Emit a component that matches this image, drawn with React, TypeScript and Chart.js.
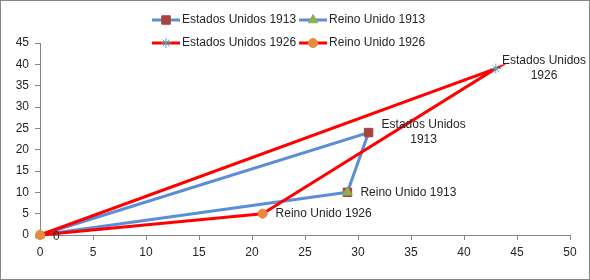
import React, { useEffect, useRef } from 'react';
import { Chart, registerables } from 'chart.js';
import { drawPoint } from 'chart.js/helpers';

Chart.register(...registerables);

const seriesNames = ['Estados Unidos 1913', 'Reino Unido 1913', 'Estados Unidos 1926', 'Reino Unido 1926'];

const eu1913X = [0, 31, 29];
const eu1913Y = [0, 24, 10];
const eu1913Labels = ['0', 'Estados Unidos\n1913', ''];

const ru1913X = [29, 0];
const ru1913Y = [10, 0];
const ru1913Labels = ['Reino Unido 1913', ''];

const eu1926X = [0, 43, 21];
const eu1926Y = [0, 39, 5];
const eu1926Labels = ['', 'Estados Unidos\n1926', ''];

const ru1926X = [21, 0];
const ru1926Y = [5, 0];
const ru1926Labels = ['Reino Unido 1926', ''];

const xTickMin = 0;
const xTickMax = 50;
const xTickStep = 5;
const yTickMin = 0;
const yTickMax = 45;
const yTickStep = 5;

const FONT_FAMILY = "'Liberation Sans', Arial, sans-serif";
const FONT_SIZE = 12;
const TEXT_COLOR = '#262626';
const AXIS_COLOR = '#868686';

const BLUE = '#5B8ED7';
const RED = '#FF0000';

const toPoints = (xs: number[], ys: number[]) => xs.map((x, i) => ({ x, y: ys[i] }));

const legendPlugin = {
  id: 'customLegend',
  afterDraw(chart: any) {
    const ctx = chart.ctx as CanvasRenderingContext2D;
    const ds = chart.data.datasets;
    ctx.save();
    ctx.font = `${FONT_SIZE}px ${FONT_FAMILY}`;
    const lineLen = 28;
    const textGap = 2;
    const colGap = 3;
    const rows = [[0, 1], [2, 3]];
    const rowY = [20, 43];
    const itemW = ds.map((d: any) => lineLen + textGap + ctx.measureText(d.label).width);
    const colW = [Math.max(itemW[0], itemW[2]), Math.max(itemW[1], itemW[3])];
    const total = colW[0] + colGap + colW[1];
    const startX = Math.round(289 - total / 2);
    rows.forEach((row, r) => {
      let x = startX;
      row.forEach((idx, c) => {
        const d = ds[idx];
        const y = rowY[r];
        ctx.strokeStyle = d.borderColor;
        ctx.lineWidth = 3;
        ctx.beginPath();
        ctx.moveTo(x, y);
        ctx.lineTo(x + lineLen, y);
        ctx.stroke();
        ctx.fillStyle = d.pointBackgroundColor;
        ctx.strokeStyle = d.pointBorderColor;
        ctx.lineWidth = d.pointBorderWidth;
        const rad = Array.isArray(d.pointRadius) ? d.pointRadius[d.pointRadius.length - 1] : d.pointRadius;
        drawPoint(ctx, { pointStyle: d.pointStyle, radius: rad, rotation: 0, borderWidth: d.pointBorderWidth } as any, x + lineLen / 2, y);
        ctx.fillStyle = TEXT_COLOR;
        ctx.textAlign = 'left';
        ctx.textBaseline = 'middle';
        ctx.fillText(d.label, x + lineLen + textGap, y);
        x += colW[c] + colGap;
      });
    });
    ctx.restore();
  },
};

const dataLabelPlugin = {
  id: 'pointLabels',
  afterDatasetsDraw(chart: any) {
    const ctx = chart.ctx as CanvasRenderingContext2D;
    ctx.save();
    ctx.font = `${FONT_SIZE}px ${FONT_FAMILY}`;
    ctx.fillStyle = TEXT_COLOR;
    ctx.textBaseline = 'middle';
    ctx.textAlign = 'center';
    const gap = 13;
    const lineH = 15;
    chart.data.datasets.forEach((d: any, di: number) => {
      const meta = chart.getDatasetMeta(di);
      const labels: string[] = d.pointLabels || [];
      meta.data.forEach((el: any, i: number) => {
        const txt = labels[i];
        if (!txt) return;
        const lines = txt.split('\n');
        const w = Math.max(...lines.map((l) => ctx.measureText(l).width));
        let left = el.x + gap;
        if (left + w > chart.width - 4) left = chart.width - 4 - w;
        const top = el.y - ((lines.length - 1) * lineH) / 2 + (lines.length === 1 && txt === '0' ? 2 : 0);
        lines.forEach((l, k) => {
          ctx.fillText(l, left + w / 2, top + k * lineH);
        });
      });
    });
    ctx.restore();
  },
};

const borderPlugin = {
  id: 'outerBorder',
  afterDraw(chart: any) {
    const ctx = chart.ctx as CanvasRenderingContext2D;
    ctx.save();
    ctx.strokeStyle = AXIS_COLOR;
    ctx.lineWidth = 1;
    ctx.strokeRect(0.5, 0.5, chart.width - 1, chart.height - 1);
    ctx.restore();
  },
};

export default function App() {
  const ref = useRef<HTMLCanvasElement | null>(null);

  useEffect(() => {
    document.body.style.margin = '0';
    const canvas = ref.current;
    if (!canvas) return;
    const chart = new Chart(canvas, {
      type: 'scatter',
      data: {
        datasets: [
          {
            label: seriesNames[0],
            data: toPoints(eu1913X, eu1913Y),
            pointLabels: eu1913Labels,
            showLine: true,
            borderColor: BLUE,
            backgroundColor: BLUE,
            borderWidth: 3,
            pointStyle: 'rect',
            pointRadius: [0, 6, 6],
            pointBackgroundColor: '#A5433F',
            pointBorderColor: '#A5433F',
            pointBorderWidth: 1,
            clip: false,
            order: 3,
          },
          {
            label: seriesNames[1],
            data: toPoints(ru1913X, ru1913Y),
            pointLabels: ru1913Labels,
            showLine: true,
            borderColor: BLUE,
            backgroundColor: BLUE,
            borderWidth: 3,
            pointStyle: 'triangle',
            pointRadius: 5.5,
            pointBackgroundColor: '#8FB04F',
            pointBorderColor: '#8FB04F',
            pointBorderWidth: 1,
            clip: false,
            order: 2,
          },
          {
            label: seriesNames[2],
            data: toPoints(eu1926X, eu1926Y),
            pointLabels: eu1926Labels,
            showLine: true,
            borderColor: RED,
            backgroundColor: RED,
            borderWidth: 3,
            pointStyle: 'star',
            pointRadius: 5,
            pointBackgroundColor: '#4BACC6',
            pointBorderColor: '#4BACC6',
            pointBorderWidth: 1,
            clip: false,
            order: 1,
          },
          {
            label: seriesNames[3],
            data: toPoints(ru1926X, ru1926Y),
            pointLabels: ru1926Labels,
            showLine: true,
            borderColor: RED,
            backgroundColor: RED,
            borderWidth: 3,
            pointStyle: 'circle',
            pointRadius: 4.5,
            pointBackgroundColor: '#E9893F',
            pointBorderColor: '#E9893F',
            pointBorderWidth: 1,
            clip: false,
            order: 0,
          },
        ] as any,
      },
      options: {
        animation: false,
        responsive: false,
        layout: { padding: { top: 43, right: 20, left: 0, bottom: 0 } },
        plugins: { legend: { display: false }, tooltip: { enabled: false } },
        scales: {
          x: {
            type: 'linear',
            min: xTickMin,
            max: xTickMax,
            ticks: { stepSize: xTickStep, color: TEXT_COLOR, font: { family: FONT_FAMILY, size: FONT_SIZE }, padding: 5, maxRotation: 0 },
            grid: { drawOnChartArea: false, tickLength: 5, color: AXIS_COLOR },
            border: { color: AXIS_COLOR },
            afterFit: (s: any) => { s.height = 45; },
          },
          y: {
            type: 'linear',
            min: yTickMin,
            max: yTickMax,
            ticks: { stepSize: yTickStep, color: TEXT_COLOR, font: { family: FONT_FAMILY, size: FONT_SIZE }, padding: 6 },
            grid: { drawOnChartArea: false, tickLength: 5, color: AXIS_COLOR },
            border: { color: AXIS_COLOR },
            afterFit: (s: any) => { s.width = 40; },
          },
        },
      } as any,
      plugins: [dataLabelPlugin, legendPlugin, borderPlugin],
    });
    return () => chart.destroy();
  }, []);

  return (
    <div style={{ width: 590, height: 280 }}>
      <canvas ref={ref} width={590} height={280} style={{ display: 'block', width: 590, height: 280 }} />
    </div>
  );
}
